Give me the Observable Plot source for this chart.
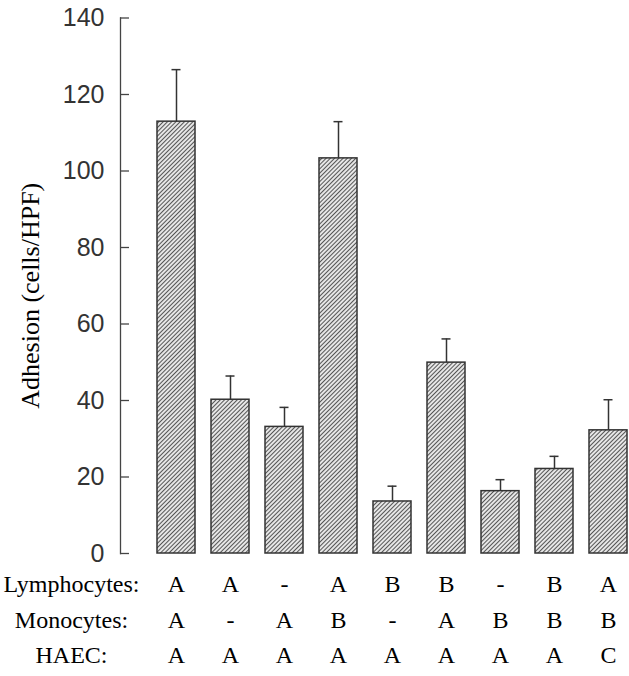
<!DOCTYPE html>
<html><head><meta charset="utf-8">
<script src="https://cdn.jsdelivr.net/npm/d3@7"></script>
<script src="https://cdn.jsdelivr.net/npm/@observablehq/plot@0.6"></script>
<style>body{margin:0;background:#fff}</style>
</head><body><div id="chart"></div>
<script>
const conditions = ["1","2","3","4","5","6","7","8","9"];
const values = [112.9, 40.2, 33.1, 103.3, 13.6, 49.9, 16.3, 22.1, 32.2];
const errors = [13.6, 6.2, 5.1, 9.6, 4.0, 6.2, 3.0, 3.3, 8.0];
const lymphocytes = ["A","A","-","A","B","B","-","B","A"];
const monocytes = ["A","-","A","B","-","A","B","B","B"];
const haec = ["A","A","A","A","A","A","A","A","C"];
const rowLabels = ["Lymphocytes:", "Monocytes:", "HAEC:"];
const yTicks = [0, 20, 40, 60, 80, 100, 120, 140];
const yTitle = "Adhesion (cells/HPF)";

const data = conditions.map((c, i) => ({
  c, value: values[i], top: values[i] + errors[i],
  l: lymphocytes[i], m: monocytes[i], h: haec[i]
}));

const serif = "Liberation Serif, Times New Roman, serif";
const rowDy = [31.3, 67.3, 102.3];
const rowFields = ["l", "m", "h"];

const chart = Plot.plot({
  width: 629, height: 676,
  marginTop: 17.5, marginBottom: 123, marginLeft: 120, marginRight: 0,
  x: {domain: conditions, paddingInner: 0.3, paddingOuter: 0.337, align: 0.956, axis: null},
  y: {domain: [0, 140], axis: null},
  marks: [
    Plot.frame({anchor: "left", stroke: "#444", strokeWidth: 1.3}),
    Plot.axisY({ticks: yTicks, tickSize: -9, tickFormat: () => "", stroke: "#444", strokeWidth: 1.3, label: null}),
    Plot.axisY({ticks: yTicks, tickSize: 0, tickPadding: 16, fontSize: 25, fontFamily: "Liberation Sans, Arial, sans-serif", fill: "#333", label: null}),
    Plot.barY(data, {x: "c", y: "value", fill: "url(#hatch)", stroke: "#333", strokeWidth: 1.5}),
    Plot.ruleX(data, {x: "c", y1: "value", y2: "top", stroke: "#333", strokeWidth: 1.5}),
    Plot.tickY(data, {x: "c", y: "top", insetLeft: 14.5, insetRight: 14.5, stroke: "#333", strokeWidth: 1.5}),
    ...rowFields.map((f, i) => Plot.text(data, {x: "c", text: f, frameAnchor: "bottom", dy: rowDy[i], textAnchor: "middle", lineAnchor: "middle", fontFamily: serif, fontSize: 24, fill: "#000"})),
    ...rowLabels.map((t, i) => Plot.text([t], {frameAnchor: "bottom-left", dx: -49, dy: rowDy[i], textAnchor: "middle", lineAnchor: "middle", fontFamily: serif, fontSize: 24, fill: "#000"})),
    Plot.text([yTitle], {frameAnchor: "left", dx: -90, dy: 10, rotate: -90, textAnchor: "middle", lineAnchor: "middle", fontFamily: serif, fontSize: 26, fill: "#000"})
  ]
});

d3.select(chart).insert("defs", ":first-child").html(
  '<pattern id="hatch" patternUnits="userSpaceOnUse" width="3" height="3" patternTransform="rotate(45)">' +
  '<rect width="3" height="3" fill="#e6e6e6"/>' +
  '<line x1="0.5" y1="0" x2="0.5" y2="3" stroke="#555" stroke-width="1"/></pattern>'
);

document.getElementById("chart").appendChild(chart);
</script>
</body></html>
